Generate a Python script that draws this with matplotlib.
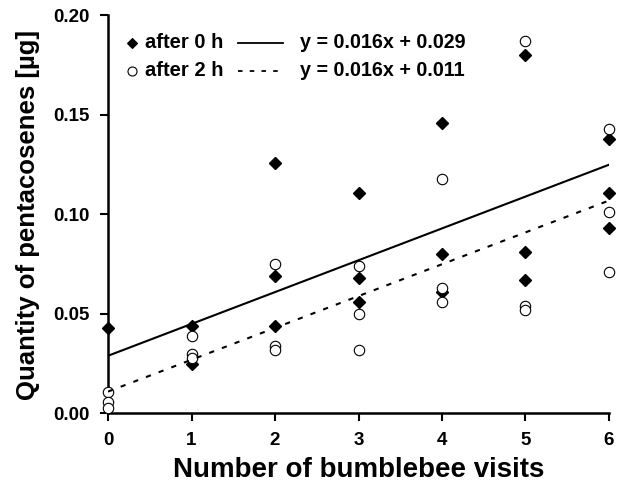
import numpy as np
import matplotlib.pyplot as plt
from matplotlib.lines import Line2D

plt.rcParams['font.family'] = ['Liberation Sans', 'DejaVu Sans']
plt.rcParams['font.weight'] = 'bold'

# visits per flower (x) and pentacosene quantity (ug)
x_0h = [0, 1, 1, 2, 2, 2, 3, 3, 3, 4, 4, 4, 5, 5, 5, 6, 6, 6]
y_0h = [0.043, 0.044, 0.025, 0.126, 0.069, 0.044, 0.111, 0.068, 0.056,
        0.146, 0.080, 0.061, 0.180, 0.081, 0.067, 0.138, 0.111, 0.093]
x_2h = [0, 0, 0, 1, 1, 1, 2, 2, 2, 3, 3, 3, 4, 4, 4, 5, 5, 5, 6, 6, 6]
y_2h = [0.011, 0.006, 0.003, 0.039, 0.030, 0.028, 0.075, 0.034, 0.032,
        0.074, 0.050, 0.032, 0.118, 0.063, 0.056, 0.187, 0.054, 0.052,
        0.143, 0.101, 0.071]

# regression lines
slope_0h, icpt_0h = 0.016, 0.029
slope_2h, icpt_2h = 0.016, 0.011

fig = plt.figure(figsize=(6.23, 4.92), dpi=100)
ax = fig.add_axes([0.1734, 0.1596, 0.8041, 0.8089])

xl = np.array([0, 6])
ax.plot(xl, icpt_0h + slope_0h*xl, color='black', lw=1.5, zorder=4)
ax.plot(xl, icpt_2h + slope_2h*xl, color='black', lw=1.5, ls=(0, (2.5, 4)), zorder=4)

ax.plot(x_0h, y_0h, ls='none', marker='D', ms=6.5, color='black', clip_on=False, zorder=2)
ax.plot(x_2h, y_2h, ls='none', marker='o', ms=7.5, mfc='white', mec='black', mew=0.8,
        clip_on=False, zorder=3)

ax.set_xlim(0, 6)
ax.set_ylim(0, 0.2)
ax.set_xticks(range(7))
ax.set_yticks([0, 0.05, 0.1, 0.15, 0.2])
ax.set_yticklabels(['0.00', '0.05', '0.10', '0.15', '0.20'])
for s in ['top', 'right']:
    ax.spines[s].set_visible(False)
for s in ['left', 'bottom']:
    ax.spines[s].set_linewidth(1.8)
ax.tick_params(direction='out', length=6, width=1.5, labelsize=13.5, pad=7)
for lab in ax.get_xticklabels() + ax.get_yticklabels():
    lab.set_fontweight('bold')

ax.set_xlabel('Number of bumblebee visits', fontsize=20, fontweight='bold', labelpad=6)
ax.set_ylabel('Quantity of pentacosenes [µg]', fontsize=18.5, fontweight='bold', labelpad=10)

# legend drawn by hand
tr = ax.transAxes
rows = [(0.931, 'D', 'black', '-', 'after 0 h', 'y = 0.016x + 0.029'),
        (0.861, 'o', 'white', (0, (2.5, 4)), 'after 2 h', 'y = 0.016x + 0.011')]
for yy, mk, fc, ls, lab, eq in rows:
    ax.add_line(Line2D([0.048], [yy], marker=mk, ms=5 if mk == 'D' else 6.5, mfc=fc,
                       mec='black', mew=0.8, ls='none', transform=tr))
    ax.text(0.074, yy, lab, transform=tr, va='center', fontsize=14.5, fontweight='bold')
    ax.add_line(Line2D([0.259, 0.349], [yy, yy], color='black', lw=1.3, ls=ls, transform=tr))
    ax.text(0.383, yy, eq, transform=tr, va='center', fontsize=14.2, fontweight='bold')

fig.savefig('out.png', dpi=100)
